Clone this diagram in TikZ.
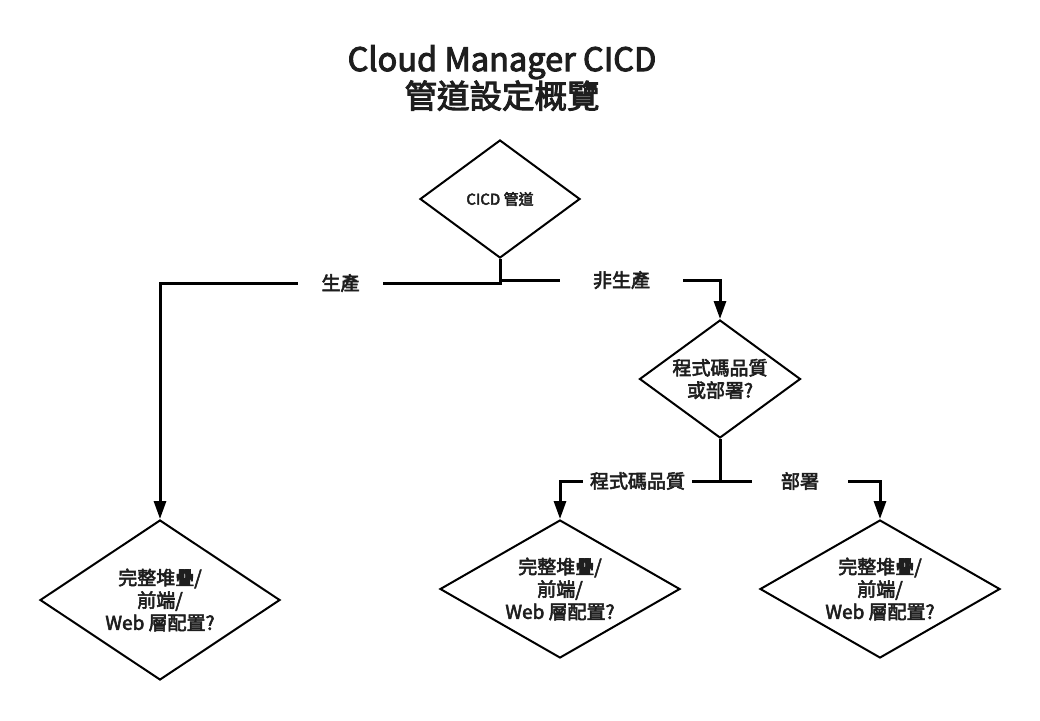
\documentclass[tikz,border=0pt]{standalone}
\usepackage{fontspec}
\setmainfont{Noto Sans CJK TC}[BoldFont={Noto Sans CJK TC},BoldFeatures={FakeBold=3}]
\usetikzlibrary{shapes.geometric,arrows.meta}
\definecolor{txt}{HTML}{1E1E1E}
\begin{document}
\begin{tikzpicture}[x=1pt,y=-1pt,
  dia/.style={diamond,draw=black,line width=2pt,inner sep=0pt,align=center,text=txt,
    font=\fontsize{19}{22.5}\selectfont\bfseries},
  conn/.style={draw=black,line width=3pt},
  arr/.style={conn,-{Triangle[length=18pt,width=12pt]}},
  lbl/.style={inner sep=0pt,minimum height=20pt,text=txt,font=\fontsize{19}{22}\selectfont\bfseries}]
\useasboundingbox[fill=white] (0,0) rectangle (1040,720);

% title
\node[align=center,text=txt,font=\fontsize{32.5}{37}\selectfont\bfseries] (title) at (502,78)
  {Cloud Manager CICD\\管道設定概覽};

% diamonds
\node[dia,shape aspect=1.36,minimum width=160pt,minimum height=118pt,font=\fontsize{15}{18}\selectfont\bfseries] (d1) at (500,199) {CICD 管道};
\node[dia,shape aspect=1.36,minimum width=161pt,minimum height=118pt] (d2) at (720,379) {程式碼品質\\或部署?};
\node[dia,shape aspect=1.5,minimum width=240pt,minimum height=160pt] (d3) at (160,600) {完整堆疊/\\前端/\\Web 層配置?};
\node[dia,shape aspect=1.74,minimum width=240pt,minimum height=138pt] (d4) at (560,589) {完整堆疊/\\前端/\\Web 層配置?};
\node[dia,shape aspect=1.74,minimum width=240pt,minimum height=138pt] (d5) at (880,589) {完整堆疊/\\前端/\\Web 層配置?};

% labels
\node[lbl,minimum width=85pt] (l1) at (340.5,283) {生產};
\node[lbl,minimum width=123pt] (l2) at (621.5,280) {非生產};
\node[lbl,minimum width=109pt] (l3) at (637.5,481) {程式碼品質};
\node[lbl,minimum width=96pt] (l4) at (800,481) {部署};

\coordinate (j1) at (500,283);
\coordinate (j2) at (500,280);
\coordinate (j3) at (720,481);

% connectors
\draw[conn] (d1.south) -- (j1) -- (l1.east);
\draw[arr] (l1.west) -| (d3.north);
\draw[conn] (j2) -- (l2.west);
\draw[arr] (l2.east) -| (d2.north);
\draw[conn] (d2.south) -- (j3) -- (l3.east);
\draw[conn] (j3) -- (l4.west);
\draw[arr] (l3.west) -| (d4.north);
\draw[arr] (l4.east) -| (d5.north);
\end{tikzpicture}
\end{document}
